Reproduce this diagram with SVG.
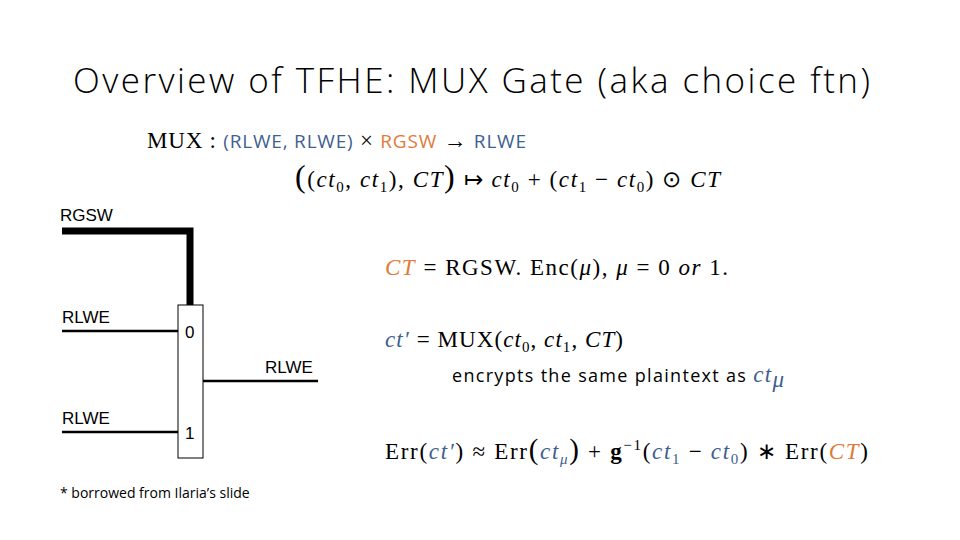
<svg xmlns="http://www.w3.org/2000/svg" width="960" height="540" viewBox="0 0 960 540">
<style>
.t{font-family:"Open Sans","Liberation Sans",sans-serif;fill:#000}
.d{font-family:"Liberation Sans",Arial,sans-serif;font-size:17px;fill:#000}
.m{font-family:"Liberation Serif","Times New Roman",serif;font-size:23px;fill:#000}
.i{font-style:italic}
.b{fill:#3e5f8f}
.o{fill:#e07b39}
.w{stroke:#000;stroke-width:2.5;fill:none}
</style>
<rect width="960" height="540" fill="#fff"/>
<text class="t" x="73" y="93" font-size="35" font-weight="300" textLength="797">Overview of TFHE: MUX Gate (aka choice ftn)</text>
<text class="m" x="147" y="148" font-size="21" textLength="379">MUX : <tspan class="t b" font-size="19">(RLWE, RLWE)</tspan> × <tspan class="t o" font-size="19">RGSW</tspan> → <tspan class="t b" font-size="19">RLWE</tspan></text>
<text class="m" x="295" y="187" font-size="25" textLength="425"><tspan font-size="32">(</tspan>(<tspan class="i">ct</tspan><tspan font-size="15" dy="5">0</tspan><tspan dy="-5">, </tspan><tspan class="i">ct</tspan><tspan font-size="15" dy="5">1</tspan><tspan dy="-5">), </tspan><tspan class="i">CT</tspan><tspan font-size="32">)</tspan> ↦  <tspan class="i">ct</tspan><tspan font-size="15" dy="5">0</tspan><tspan dy="-5"> + (</tspan><tspan class="i">ct</tspan><tspan font-size="15" dy="5">1</tspan><tspan dy="-5"> − </tspan><tspan class="i">ct</tspan><tspan font-size="15" dy="5">0</tspan><tspan dy="-5">) ⊙ </tspan><tspan class="i">CT</tspan></text>
<g id="mux">
<rect x="178" y="305" width="25" height="153" fill="#fff" stroke="#000" stroke-width="1"/>
<text class="d" x="185" y="338">0</text>
<text class="d" x="185" y="439">1</text>
</g>
<g id="labels">
<text class="d" x="60" y="221">RGSW</text>
<text class="d" x="62" y="323">RLWE</text>
<text class="d" x="265" y="373">RLWE</text>
<text class="d" x="62" y="424">RLWE</text>
</g>
<g id="connectors">
<polyline points="62,231 190,231 190,305" stroke="#000" stroke-width="7" fill="none"/>
<line class="w" x1="62" y1="331" x2="178" y2="331"/>
<line class="w" x1="203" y1="381" x2="318" y2="381"/>
<line class="w" x1="62" y1="432" x2="178" y2="432"/>
</g>
<text class="m" x="385" y="275" textLength="343"><tspan class="i o">CT</tspan> = RGSW. Enc(<tspan class="i">μ</tspan>),  <tspan class="i">μ</tspan> = 0  <tspan class="i">or</tspan>  1.</text>
<text class="m" x="385" y="347" textLength="238"><tspan class="i b">ct′</tspan> = MUX(<tspan class="i">ct</tspan><tspan font-size="15" dy="5">0</tspan><tspan dy="-5">, </tspan><tspan class="i">ct</tspan><tspan font-size="15" dy="5">1</tspan><tspan dy="-5">, </tspan><tspan class="i">CT</tspan>)</text>
<text class="t" x="452" y="382" font-size="18" textLength="332">encrypts the same plaintext as <tspan class="m i b" font-size="23">ct</tspan><tspan class="m i b" font-size="15" dy="5">μ</tspan></text>
<text class="m" x="385" y="459" textLength="483">Err(<tspan class="i b">ct′</tspan>) ≈ Err<tspan font-size="29">(</tspan><tspan class="i b">ct</tspan><tspan class="i b" font-size="15" dy="5">μ</tspan><tspan font-size="29" dy="-5">)</tspan> + <tspan font-weight="bold">g</tspan><tspan font-size="15" dy="-9">−1</tspan><tspan dy="9">(</tspan><tspan class="i b">ct</tspan><tspan class="b" font-size="15" dy="5">1</tspan><tspan dy="-5"> − </tspan><tspan class="i b">ct</tspan><tspan class="b" font-size="15" dy="5">0</tspan><tspan dy="-5">) ∗ Err(</tspan><tspan class="i o">CT</tspan>)</text>
<text class="t" x="60" y="498" font-size="14">* borrowed from Ilaria’s slide</text>
</svg>
